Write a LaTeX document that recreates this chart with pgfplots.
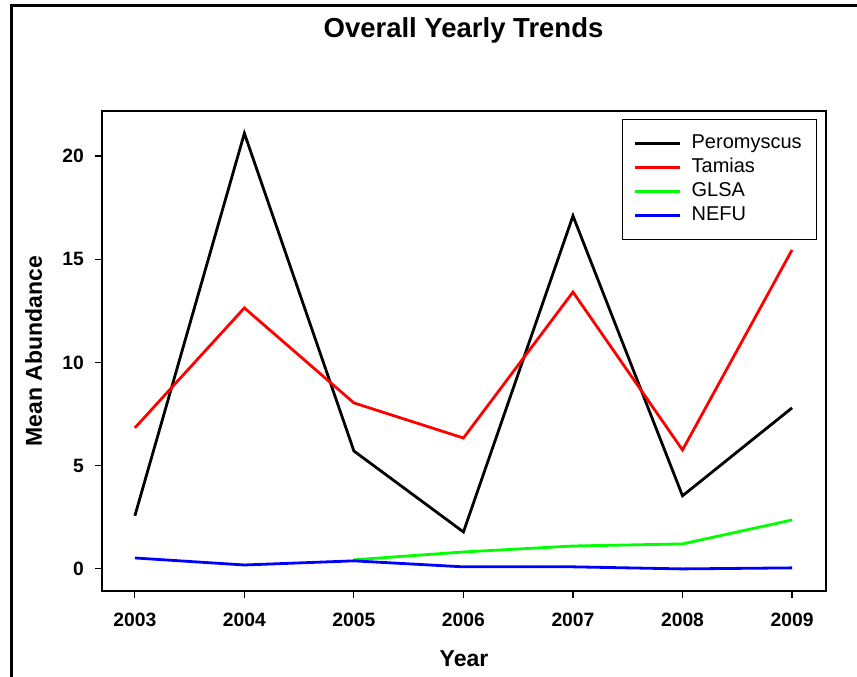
\documentclass[border=0pt]{standalone}
\usepackage{pgfplots}
\pgfplotsset{compat=1.18}
\usepackage{fontspec}
\setmainfont{Liberation Sans}
\pgfplotstableread{
year per tam
2003 2.57 6.83
2004 21.10 12.64
2005 5.71 8.04
2006 1.79 6.34
2007 17.10 13.41
2008 3.54 5.76
2009 7.80 15.45
}\mainsp
\pgfplotstableread{
year glsa
2005 0.44
2006 0.82
2007 1.11
2008 1.21
2009 2.37
}\glsa
\pgfplotstableread{
year nefu
2003 0.53
2004 0.19
2005 0.39
2006 0.10
2007 0.10
2008 0.00
2009 0.05
}\nefu
\begin{document}
\begin{tikzpicture}[x=1pt,y=1pt]
\path[use as bounding box] (0,0) rectangle (857,677);
\draw[line width=3pt] (11.5,0) -- (11.5,671.5) -- (857,671.5);
\node[anchor=base,font=\fontsize{27.5}{30}\selectfont\bfseries] at (463.5,639) {Overall Yearly Trends};
\begin{axis}[
  at={(102pt,86pt)}, anchor=south west,
  width=724pt, height=480pt, scale only axis,
  xmin=2002.7, xmax=2009.31, ymin=-1.07, ymax=22.18,
  xtick={2003,2004,2005,2006,2007,2008,2009},
  xticklabels={2003,2004,2005,2006,2007,2008,2009},
  ytick={0,5,10,15,20},
  /pgf/number format/assume math mode=true,
  tick align=outside, major tick length=7pt,
  xtick pos=bottom, ytick pos=left,
  axis line style={line width=1.3pt},
  every tick/.style={black,line width=1.1pt},
  ticklabel style={font=\fontsize{19.3}{21}\selectfont\bfseries},
  xticklabel style={inner sep=0pt, anchor=north, yshift=-15pt},
  yticklabel style={inner sep=0pt, anchor=east, xshift=-11pt},
  xlabel={Year},
  ylabel={Mean Abundance},
  label style={font=\fontsize{23}{26}\selectfont\bfseries},
  xlabel style={at={(axis description cs:0.5,0)}, anchor=base, yshift=-76pt},
  ylabel style={at={(axis description cs:-0.0829,0.5)}, anchor=base},
  legend style={at={(axis description cs:0.988,0.983)}, anchor=north east,
    draw=black, line width=1.3pt, font=\fontsize{20}{23}\selectfont,
    inner xsep=11pt, inner ysep=12pt, row sep=0pt, column sep=6pt,
    nodes={text height=14pt, text depth=4pt, inner ysep=3pt, inner xsep=4pt}},
  legend cell align=left,
  legend image code/.code={\draw[#1, line width=3pt] (0pt,0pt) -- (45pt,0pt);},
]
\addplot[black, line width=2.8pt] table[x=year,y=per] {\mainsp};
\addlegendentry{Peromyscus}
\addplot[red, line width=2.8pt] table[x=year,y=tam] {\mainsp};
\addlegendentry{Tamias}
\addplot[green, line width=2.8pt] table[x=year,y=glsa] {\glsa};
\addlegendentry{GLSA}
\addplot[blue, line width=2.8pt] table[x=year,y=nefu] {\nefu};
\addlegendentry{NEFU}
\end{axis}
\end{tikzpicture}
\end{document}
